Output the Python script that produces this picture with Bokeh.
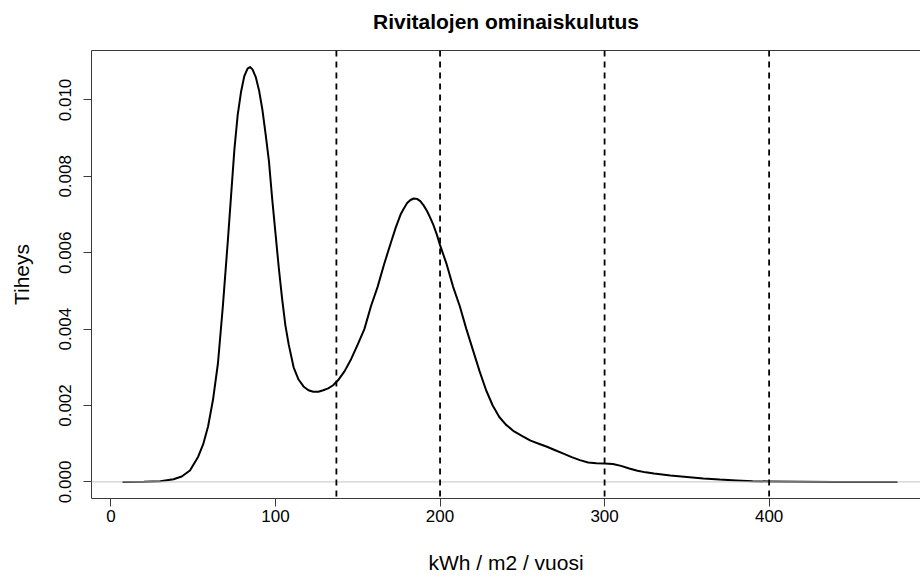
import math
from bokeh.plotting import figure
from bokeh.models import (Range1d, LinearAxis, FixedTicker, PrintfTickFormatter,
                          Span, ColumnDataSource)
from bokeh.embed import file_html
from bokeh.resources import INLINE

# Kernel density of specific consumption (kWh / m2 / year) for row houses
kwh = [7, 20, 30, 38, 43, 48, 53, 56, 59, 62, 65, 68, 71, 73, 75, 77, 79, 81,
       83, 84.5, 86, 88, 90, 92, 94, 96, 98, 100, 102, 104, 106, 108, 111, 114,
       117, 120, 123, 126, 129, 132, 135, 138, 142, 146, 150, 154, 158, 162,
       166, 170, 173, 176, 178, 180, 182, 184, 186, 188, 190, 192, 194, 196,
       198, 200, 204, 208, 212, 216, 220, 224, 228, 232, 236, 240, 245, 250,
       255, 260, 265, 270, 275, 280, 285, 290, 295, 300, 305, 310, 315, 320,
       325, 330, 340, 350, 360, 370, 380, 390, 400, 420, 440, 478]
density = [0.0, 0.000003, 0.00002, 0.00007, 0.00014, 0.00030, 0.00066, 0.00098,
           0.00145, 0.00215, 0.0031, 0.0046, 0.0063, 0.0075, 0.0087, 0.0096,
           0.01020, 0.01062, 0.01082, 0.01086, 0.01080, 0.01060, 0.01025,
           0.00975, 0.00910, 0.00840, 0.00740, 0.00650, 0.0056, 0.0048, 0.0041,
           0.0036, 0.0030, 0.00268, 0.00250, 0.00240, 0.00236, 0.00236, 0.00240,
           0.00245, 0.00253, 0.00266, 0.0029, 0.00322, 0.0036, 0.0040, 0.0046,
           0.0051, 0.0057, 0.00625, 0.00665, 0.0070, 0.00716, 0.00730, 0.00738,
           0.00742, 0.00741, 0.00735, 0.00724, 0.0071, 0.00692, 0.00672,
           0.00648, 0.0062, 0.0057, 0.0051, 0.00460, 0.0040, 0.00345, 0.0029,
           0.0024, 0.0020, 0.0017, 0.00150, 0.00132, 0.0012, 0.00108, 0.00100,
           0.00092, 0.00083, 0.00074, 0.00065, 0.00057, 0.00051, 0.00049,
           0.00048, 0.00047, 0.00042, 0.00035, 0.00029, 0.00025, 0.00022,
           0.00017, 0.00013, 0.00009, 0.00006, 0.00004, 0.00002, 0.00001,
           0.000003, 0.0, 0.0]

# Class boundaries marked with dashed lines
cut_points = [137, 200, 300, 400]

x_ticks = [0, 100, 200, 300, 400]
y_ticks = [0.0, 0.002, 0.004, 0.006, 0.008, 0.010]

TITLE = "Rivitalojen ominaiskulutus"
FONT = "Liberation Sans"
AXIS_COLOR = "#3a3a3a"

# axis limits: data range padded by 4% on each side
pad_x = 0.04 * (max(kwh) - min(kwh))
x_lo = min(kwh) - pad_x
y_lo, y_hi = -0.04 * max(density), 1.04 * max(density)
x_view_hi = 492.0  # the visible part of the plot region ends at the page edge

p = figure(width=920, height=578, output_backend="svg", toolbar_location=None,
           x_range=Range1d(x_lo, x_view_hi), y_range=Range1d(y_lo, y_hi),
           x_axis_type=None, y_axis_type=None,
           min_border_left=91, min_border_right=0, min_border_top=50,
           min_border_bottom=80)
p.outline_line_color = None
p.grid.visible = False
p.background_fill_color = "white"
p.border_fill_color = "white"

xaxis = LinearAxis(ticker=FixedTicker(ticks=x_ticks), axis_label="kWh / m2 / vuosi")
xaxis.major_tick_out = 8
xaxis.major_tick_in = 0
xaxis.minor_tick_out = 0
xaxis.minor_tick_in = 0
xaxis.major_label_standoff = 3
xaxis.axis_label_standoff = 26
p.add_layout(xaxis, "below")

yaxis = LinearAxis(ticker=FixedTicker(ticks=y_ticks), axis_label="Tiheys",
                   formatter=PrintfTickFormatter(format="%.3f"))
yaxis.major_tick_out = 8
yaxis.major_tick_in = 0
yaxis.minor_tick_out = 0
yaxis.minor_tick_in = 0
yaxis.major_label_orientation = "vertical"
yaxis.major_label_standoff = 12
yaxis.axis_label_standoff = 24
p.add_layout(yaxis, "left")

for ax in (xaxis, yaxis):
    ax.axis_line_color = AXIS_COLOR
    ax.major_tick_line_color = AXIS_COLOR
    ax.major_label_text_font = FONT
    ax.major_label_text_font_size = "17px"
    ax.major_label_text_color = "black"
    ax.axis_label_text_font = FONT
    ax.axis_label_text_font_size = "21px"
    ax.axis_label_text_font_style = "normal"
    ax.axis_label_text_color = "black"

# top edge of the plot box, carrying the chart title
top = LinearAxis(ticker=FixedTicker(ticks=[]), axis_label=TITLE)
top.major_label_text_font_size = "0px"
top.major_label_standoff = 0
top.major_tick_out = 0
top.minor_tick_out = 0
top.axis_line_color = AXIS_COLOR
top.axis_label_text_font = FONT
top.axis_label_text_font_size = "21px"
top.axis_label_text_font_style = "bold"
top.axis_label_text_color = "black"
top.axis_label_standoff = 18
p.add_layout(top, "above")

# zero line
p.add_layout(Span(location=0, dimension="width", line_color="#c4c4c4", line_width=1))

src = ColumnDataSource(dict(x=kwh, y=density))
p.line("x", "y", source=src, line_color="black", line_width=2, line_join="round")

for c in cut_points:
    p.add_layout(Span(location=c, dimension="height", line_color="black",
                      line_width=1.8, line_dash="6 5"))

open("out.html", "w").write(file_html(p, INLINE))
